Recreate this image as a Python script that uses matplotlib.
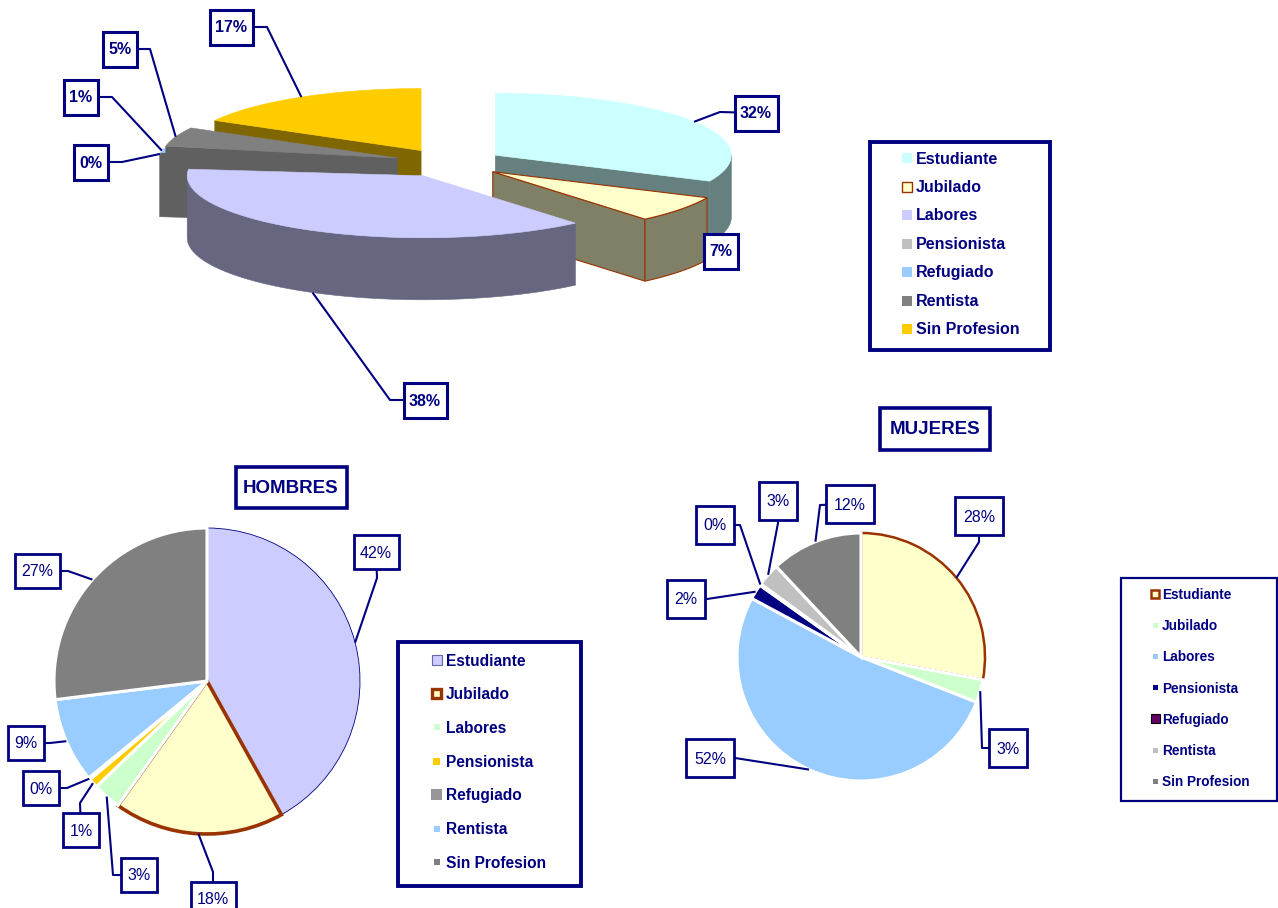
import numpy as np
import matplotlib.pyplot as plt
from matplotlib.patches import Polygon, Rectangle

plt.rcParams['font.family'] = ['Liberation Sans', 'DejaVu Sans']

NAVY = '#000080'
BROWN = '#993300'

categorias = ["Estudiante", "Jubilado", "Labores", "Pensionista",
              "Refugiado", "Rentista", "Sin Profesion"]

# total (pie 3D de arriba)
total_vals = [32, 7, 38, 0.4, 1, 5, 17]
total_colors = ["#CCFFFF", "#FFFFCC", "#CCCCFF", "#C0C0C0",
                "#99CCFF", "#808080", "#FFCC00"]
total_side_colors = ["#668080", "#808066", "#666680", "#606060",
                     "#606060", "#606060", "#806600"]

# hombres
hombres_vals = [42, 18, 3, 1, 0.2, 9, 27]
hombres_colors = ["#CCCCFF", "#FFFFCC", "#CCFFCC", "#FFCC00",
                  "#969696", "#99CCFF", "#808080"]

# mujeres
mujeres_vals = [28, 3, 52, 2, 0.2, 3, 12]
mujeres_colors = ["#FFFFCC", "#CCFFCC", "#99CCFF", "#000080",
                  "#660066", "#C0C0C0", "#808080"]

# label boxes (centre) and leader elbows, in pixels
total_lbl_pos = [(756, 113), (721, 251), (425, 400), (91, 162), (81, 97), (120, 49), (231, 27)]
total_lbl_elbow = [(720, 112), None, (390, 400), (122, 162), (112, 97), (150, 49), (267, 27)]
hombres_lbl_pos = [(376, 552), (213, 899), (139, 875), (81, 830), (41, 788), (26, 743), (37, 571)]
hombres_lbl_elbow = [(377, 578), (213, 872), (113, 875), (80, 803), (67, 788), (50, 743), (68, 571)]
mujeres_lbl_pos = [(979, 516), (1008, 748), (710, 758), (686, 599), (715, 525), (778, 501), (850, 504)]
mujeres_lbl_elbow = [(979, 542), (982, 748), (735, 758), (707, 599), (740, 525), (778, 523), (820, 505)]

fig = plt.figure(figsize=(12.78, 9.08), dpi=100)
ax = fig.add_axes([0, 0, 1, 1])


def caja(pos, w, h, lw):
    ax.add_patch(Rectangle((pos[0] - w / 2, pos[1] - h / 2), w, h, fc='white',
                           ec=NAVY, lw=lw, zorder=7))


def etiqueta(anchor, elbow, pos, txt, bold, fs, lw_box, cw, extra, h):
    if elbow is not None:
        ax.plot([anchor[0], elbow[0], pos[0]], [anchor[1], elbow[1], pos[1]],
                color=NAVY, lw=1.5, zorder=6, solid_capstyle='butt')
    caja(pos, cw * len(txt) + extra, h, lw_box)
    ax.text(pos[0], pos[1] + 1, txt, ha='center', va='center', fontsize=fs,
            fontweight='bold' if bold else 'normal', color=NAVY, zorder=8)


def pct_labels(vals):
    t = sum(vals)
    return ["{:.0f}%".format(v / t * 100) for v in vals]


# ---------------- 3D exploded pie ----------------
CX, CY = 449, 163
RX, RY = 236, 62
DEPTH = 62
EXPLODE = 55


def rim(ox, oy, th):
    t = np.radians(th)
    return ox + RX * np.sin(t), oy - RY * np.cos(t)


def cut_face(ox, oy, th):
    x, y = rim(ox, oy, th)
    return [(ox, oy), (x, y), (x, y + DEPTH), (ox, oy + DEPTH)]


tot = sum(total_vals)
cum = np.concatenate([[0], np.cumsum(total_vals)]) / tot * 360
slices = []
for i in range(len(total_vals)):
    a1, a2 = cum[i], cum[i + 1]
    b = np.radians((a1 + a2) / 2)
    ox = CX + EXPLODE * np.sin(b)
    oy = CY - EXPLODE * (RY / RX) * np.cos(b)
    slices.append((a1, a2, ox, oy))

orden_3d = [6, 0, 3, 4, 5, 1, 2]  # back to front
for i in orden_3d:
    a1, a2, ox, oy = slices[i]
    top = total_colors[i]
    side = total_side_colors[i]
    if i == 1:
        ec_top, ec_side, lw = BROWN, BROWN, 0.8
    else:
        ec_top, ec_side, lw = top, side, 0.4
    faces = []
    if np.sin(np.radians(a1)) < -1e-9:
        faces.append(cut_face(ox, oy, a1))
    if np.sin(np.radians(a2)) > 1e-9:
        faces.append(cut_face(ox, oy, a2))
    lo, hi = max(a1, 90), min(a2, 270)
    if hi > lo:
        tt = np.linspace(lo, hi, 60)
        up = [rim(ox, oy, t) for t in tt]
        dn = [(x, y + DEPTH) for x, y in up[::-1]]
        faces.append(up + dn)
    for f in faces:
        ax.add_patch(Polygon(f, closed=True, fc=side, ec=ec_side, lw=lw, zorder=2))
    tt = np.linspace(a1, a2, 80)
    pts = [(ox, oy)] + [rim(ox, oy, t) for t in tt]
    ax.add_patch(Polygon(pts, closed=True, fc=top, ec=ec_top, lw=lw, zorder=2))

for i, txt in enumerate(pct_labels(total_vals)):
    a1, a2, ox, oy = slices[i]
    b = (a1 + a2) / 2
    x, y = rim(ox, oy, b)
    if 90 < b < 270:
        y += DEPTH
    etiqueta((x, y), total_lbl_elbow[i], total_lbl_pos[i], txt, True, 11.5,
             2.2, 9, 16, 35)


# ---------------- flat pies ----------------
def pie_plano(vals, colors, center, r, lbl_pos, lbl_elbow, cw, extra, h):
    wedges, _ = ax.pie(vals, colors=colors, startangle=270, counterclock=True,
                       center=center, radius=r, frame=True,
                       wedgeprops=dict(edgecolor='white', linewidth=2.2))
    t = sum(vals)
    c = np.cumsum([0] + list(vals)) / t * 360
    for i, txt in enumerate(pct_labels(vals)):
        th = np.radians((c[i] + c[i + 1]) / 2)
        anchor = (center[0] + r * np.sin(th), center[1] - r * np.cos(th))
        etiqueta(anchor, lbl_elbow[i], lbl_pos[i], txt, False, 11.5, 2.0,
                 cw, extra, h)
    return wedges


wh = pie_plano(hombres_vals, hombres_colors, (207, 681), 153,
               hombres_lbl_pos, hombres_lbl_elbow, 9, 18, 34)
wh[0].set_edgecolor(NAVY)
wh[0].set_linewidth(0.6)
wh[1].set_edgecolor(BROWN)
wh[1].set_linewidth(2.6)
for w in wh[2:]:
    w.set_zorder(w.get_zorder() + 0.1)

wm = pie_plano(mujeres_vals, mujeres_colors, (861, 657), 124,
               mujeres_lbl_pos, mujeres_lbl_elbow, 10, 18, 38)
wm[0].set_edgecolor(BROWN)
wm[0].set_linewidth(1.8)
for w in wm[1:]:
    w.set_zorder(w.get_zorder() + 0.1)

# titles
for txt, pos, w, h in [("HOMBRES", (291, 487.5), 111, 41),
                       ("MUJERES", (935, 429), 110, 42)]:
    caja(pos, w, h, 2.6)
    ax.text(pos[0], pos[1] + 1, txt, ha='center', va='center', fontsize=13.5,
            fontweight='bold', color=NAVY, zorder=8)


# ---------------- legends ----------------
def leyenda(box, lw, y0, dy, mx, msizes, mfill, medge, mlw, tx, fs):
    x0, y0b, x1, y1 = box
    ax.add_patch(Rectangle((x0, y0b), x1 - x0, y1 - y0b, fc='white', ec=NAVY,
                           lw=lw, zorder=4))
    for k, name in enumerate(categorias):
        y = y0 + k * dy
        s = msizes[k]
        ax.add_patch(Rectangle((mx - s / 2, y - s / 2), s, s, fc=mfill[k],
                               ec=medge[k], lw=mlw[k], zorder=5))
        ax.text(tx, y + 1, name, ha='left', va='center', fontsize=fs,
                fontweight='bold', color=NAVY, zorder=5)


leyenda((870, 142, 1050, 350), 2.8, 158, 28.5, 906.5,
        [10, 10, 10, 10, 10, 10, 10], total_colors,
        ['none', BROWN, 'none', 'none', 'none', 'none', 'none'],
        [0, 1.0, 0, 0, 0, 0, 0], 916, 11.5)

leyenda((398, 642, 581, 886), 2.8, 660, 33.7, 436.5,
        [10, 9, 6, 7, 11, 6, 6], hombres_colors,
        ['#6666AA', BROWN, 'none', 'none', 'none', 'none', 'none'],
        [0.8, 2.4, 0, 0, 0, 0, 0], 446, 11.2)

leyenda((1121, 578, 1277, 801), 1.6, 594, 31.2, 1155,
        [8, 5, 5, 5, 9, 5, 5], mujeres_colors,
        [BROWN, 'none', 'none', 'none', 'black', 'none', 'none'],
        [1.8, 0, 0, 0, 0.8, 0, 0], 1162, 9.8)

ax.set_xlim(0, 1278)
ax.set_ylim(908, 0)
ax.set_aspect('auto')
ax.axis('off')

fig.savefig('out.png', dpi=100)
